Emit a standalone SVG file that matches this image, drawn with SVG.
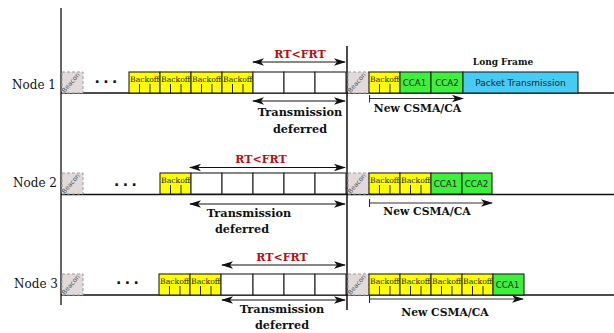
<svg xmlns="http://www.w3.org/2000/svg" width="614" height="333" viewBox="0 0 614 333">
<style>
.ax{stroke:#111;stroke-width:1.3;fill:none}
.bl{stroke:#111;stroke-width:1.3;fill:none}
.bx{stroke:#222;stroke-width:1.1}
.bo{fill:#ffff00}
.wh{fill:#ffffff}
.cca{fill:#3cf03c}
.pk{fill:#44ccf2}
.bc{fill:#e2dada;stroke:#999;stroke-width:1;stroke-dasharray:3,2}
.tk{stroke:#222;stroke-width:1}
.arr{stroke:#111;stroke-width:1.2;fill:none;marker-start:url(#ah);marker-end:url(#ah)}
.ncs{stroke:#333;stroke-width:1.1;fill:none;marker-start:url(#bar);marker-end:url(#ah)}
.lbl{font-family:"DejaVu Serif",serif;font-size:12px;fill:#111}
.bot{font-family:"DejaVu Serif",serif;font-size:7.7px;fill:#222}
.cc{font-family:"DejaVu Sans",sans-serif;font-size:8.7px;fill:#222;text-anchor:middle}
.bct{font-family:"DejaVu Sans",sans-serif;font-size:6.5px;fill:#555;text-anchor:middle}
.rt{font-family:"DejaVu Serif",serif;font-size:11px;font-weight:bold;fill:#b40f0f;text-anchor:middle}
.td{font-family:"DejaVu Serif",serif;font-size:11.3px;font-weight:bold;fill:#111;text-anchor:middle}
.nc{font-family:"DejaVu Serif",serif;font-size:10.8px;font-weight:bold;fill:#111;text-anchor:middle}
.lf{font-family:"DejaVu Serif",serif;font-size:9px;font-weight:bold;fill:#111;text-anchor:middle}
.dots{font-family:"DejaVu Sans",sans-serif;font-size:14px;font-weight:bold;fill:#111;letter-spacing:3.4px}
</style>
<defs>
<marker id="ah" viewBox="0 0 12 8" refX="11" refY="4" markerWidth="12" markerHeight="8" markerUnits="userSpaceOnUse" orient="auto-start-reverse">
<path d="M0,0.3 L12,4 L0,7.7 L3,4 z" fill="#111"/>
</marker>
<marker id="bar" viewBox="0 0 2 8" refX="1" refY="4" markerWidth="2" markerHeight="8" markerUnits="userSpaceOnUse" orient="auto">
<path d="M1,0 L1,8" stroke="#333" stroke-width="1.2"/>
</marker>
</defs>
<rect width="614" height="333" fill="#ffffff"/>

<g id="axes">
<line class="ax" x1="61" y1="8" x2="61" y2="305"/>
<line class="ax" x1="347" y1="46" x2="347" y2="310" style="stroke-width:1.5"/>
</g>

<!-- Node 1 -->
<g id="node1">
<line class="bl" x1="61" y1="93" x2="614" y2="93"/>
<text class="lbl" x="12" y="89">Node 1</text>
<rect class="bc" x="62" y="72" width="21" height="21"/>
<text class="bct" transform="translate(72.5,84) rotate(-50)">Beacon</text>
<text class="dots" x="94.5" y="83.3">...</text>
<g class="bx bo">
<rect x="129" y="72" width="31" height="21"/><rect x="160" y="72" width="31" height="21"/><rect x="191" y="72" width="31" height="21"/><rect x="222" y="72" width="31" height="21"/>
</g>
<g class="tk">
<path d="M139.5,84V93M150,84V93M170.5,84V93M181,84V93M201.5,84V93M212,84V93M232.5,84V93M243,84V93"/>
</g>
<text class="bot" x="130" y="81.5">Backoff</text><text class="bot" x="161" y="81.5">Backoff</text><text class="bot" x="192" y="81.5">Backoff</text><text class="bot" x="223" y="81.5">Backoff</text>
<g class="bx wh">
<rect x="253" y="72" width="31" height="21"/><rect x="284" y="72" width="31" height="21"/><rect x="315" y="72" width="31" height="21"/>
</g>
<rect class="bc" x="348" y="72" width="21" height="21"/>
<text class="bct" transform="translate(358.5,84) rotate(-50)">Beacon</text>
<rect class="bx bo" x="369" y="72" width="31" height="21"/>
<path class="tk" d="M379.5,84V93M390,84V93"/>
<text class="bot" x="370" y="81.5">Backoff</text>
<rect class="bx cca" x="400" y="72" width="31" height="21"/>
<rect class="bx cca" x="431" y="72" width="32" height="21"/>
<rect class="bx pk" x="463" y="72" width="115" height="21"/>
<text class="cc" x="414.5" y="86">CCA1</text>
<text class="cc" x="447" y="86">CCA2</text>
<text class="cc" x="520.5" y="85.5" style="font-size:9px">Packet Transmission</text>
<text class="lf" x="503" y="65">Long Frame</text>
<text class="rt" x="300" y="58">RT&lt;FRT</text>
<text class="td" x="300" y="116">Transmission</text>
<text class="td" x="300" y="133">deferred</text>
<text class="nc" x="417.5" y="112">New CSMA/CA</text>
</g>

<!-- Node 2 -->
<g id="node2">
<line class="bl" x1="61" y1="194.5" x2="614" y2="194.5"/>
<text class="lbl" x="13" y="187">Node 2</text>
<rect class="bc" x="62" y="173" width="21" height="21"/>
<text class="bct" transform="translate(72.5,185) rotate(-50)">Beacon</text>
<text class="dots" x="114" y="186">...</text>
<rect class="bx bo" x="160" y="173" width="31" height="21"/>
<path class="tk" d="M170.5,185V194M181,185V194"/>
<text class="bot" x="161" y="182.5">Backoff</text>
<g class="bx wh">
<rect x="191" y="173" width="31" height="21"/><rect x="222" y="173" width="31" height="21"/><rect x="253" y="173" width="31" height="21"/><rect x="284" y="173" width="31" height="21"/><rect x="315" y="173" width="31" height="21"/>
</g>
<rect class="bc" x="348" y="173" width="21" height="21"/>
<text class="bct" transform="translate(358.5,185) rotate(-50)">Beacon</text>
<g class="bx bo">
<rect x="369" y="173" width="31" height="21"/><rect x="400" y="173" width="31" height="21"/>
</g>
<path class="tk" d="M379.5,185V194M390,185V194M410.5,185V194M421,185V194"/>
<text class="bot" x="370" y="182.5">Backoff</text><text class="bot" x="401" y="182.5">Backoff</text>
<rect class="bx cca" x="431" y="173" width="31" height="21"/>
<rect class="bx cca" x="462" y="173" width="30" height="21"/>
<text class="cc" x="445.5" y="187">CCA1</text>
<text class="cc" x="476.5" y="187">CCA2</text>
<text class="rt" x="261" y="162.5">RT&lt;FRT</text>
<text class="td" x="249" y="217">Transmission</text>
<text class="td" x="242" y="233">deferred</text>
<text class="nc" x="427" y="215">New CSMA/CA</text>
</g>

<!-- Node 3 -->
<g id="node3">
<line class="bl" x1="61" y1="295" x2="614" y2="295"/>
<text class="lbl" x="14" y="288">Node 3</text>
<rect class="bc" x="62" y="274" width="21" height="21"/>
<text class="bct" transform="translate(72.5,286) rotate(-50)">Beacon</text>
<text class="dots" x="116" y="283.7">...</text>
<g class="bx bo">
<rect x="159" y="274" width="31" height="21"/><rect x="190" y="274" width="31" height="21"/>
</g>
<path class="tk" d="M169.5,286V295M180,286V295M200.5,286V295M211,286V295"/>
<text class="bot" x="160" y="283.5">Backoff</text><text class="bot" x="191" y="283.5">Backoff</text>
<g class="bx wh">
<rect x="221" y="274" width="32" height="21"/><rect x="253" y="274" width="31" height="21"/><rect x="284" y="274" width="31" height="21"/><rect x="315" y="274" width="31" height="21"/>
</g>
<rect class="bc" x="348" y="274" width="21" height="21"/>
<text class="bct" transform="translate(358.5,286) rotate(-50)">Beacon</text>
<g class="bx bo">
<rect x="369" y="274" width="31" height="21"/><rect x="400" y="274" width="31" height="21"/><rect x="431" y="274" width="31" height="21"/><rect x="462" y="274" width="31" height="21"/>
</g>
<path class="tk" d="M379.5,286V295M390,286V295M410.5,286V295M421,286V295M441.5,286V295M452,286V295M472.5,286V295M483,286V295"/>
<text class="bot" x="370" y="283.5">Backoff</text><text class="bot" x="401" y="283.5">Backoff</text><text class="bot" x="432" y="283.5">Backoff</text><text class="bot" x="463" y="283.5">Backoff</text>
<rect class="bx cca" x="493" y="274" width="31" height="21"/>
<text class="cc" x="507.5" y="288">CCA1</text>
<text class="rt" x="282" y="261">RT&lt;FRT</text>
<text class="td" x="282" y="313">Transmission</text>
<text class="td" x="282" y="329">deferred</text>
<text class="nc" x="445" y="316">New CSMA/CA</text>
</g>

<g id="connectors">
<line class="arr" x1="253" y1="62" x2="345" y2="62"/>
<line class="arr" x1="253" y1="101" x2="345" y2="101"/>
<line class="ncs" x1="369.5" y1="98.5" x2="463" y2="98.5"/>
<line class="arr" x1="190" y1="167.5" x2="345" y2="167.5"/>
<line class="arr" x1="190" y1="204" x2="345" y2="204"/>
<line class="ncs" x1="369.5" y1="203" x2="492" y2="203"/>
<line class="arr" x1="222" y1="265" x2="345" y2="265"/>
<line class="arr" x1="222" y1="300" x2="345" y2="300"/>
<line class="ncs" x1="369.5" y1="299" x2="523" y2="299"/>
</g>
</svg>
